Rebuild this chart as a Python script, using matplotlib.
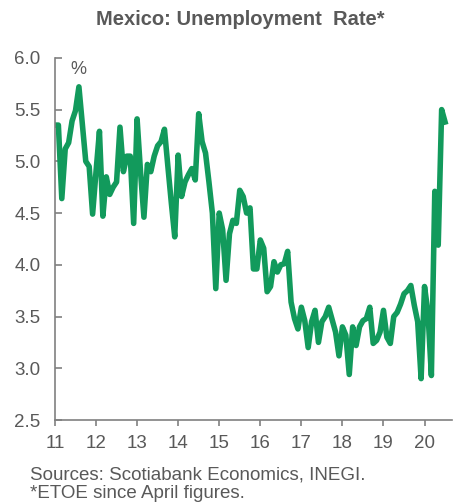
import numpy as np
import matplotlib
matplotlib.use('Agg')
import matplotlib.pyplot as plt

# monthly unemployment rate, Jan 2011 - Jul 2020 (%)
rate_2011 = [5.35, 5.35, 4.64, 5.12, 5.18, 5.39, 5.49, 5.72, 5.36, 5.00, 4.95, 4.49]
rate_2012 = [4.90, 5.29, 4.47, 4.85, 4.68, 4.75, 4.80, 5.33, 4.90, 5.05, 5.05, 4.40]
rate_2013 = [5.41, 4.90, 4.46, 4.97, 4.90, 5.05, 5.15, 5.19, 5.31, 4.95, 4.60, 4.27]
rate_2014 = [5.06, 4.66, 4.80, 4.87, 4.93, 4.82, 5.46, 5.19, 5.08, 4.80, 4.50, 3.77]
rate_2015 = [4.50, 4.34, 3.85, 4.30, 4.43, 4.40, 4.72, 4.66, 4.50, 4.55, 3.96, 3.96]
rate_2016 = [4.24, 4.16, 3.74, 3.79, 4.03, 3.93, 4.00, 4.01, 4.13, 3.64, 3.48, 3.38]
rate_2017 = [3.59, 3.46, 3.20, 3.45, 3.56, 3.25, 3.45, 3.50, 3.59, 3.47, 3.35, 3.12]
rate_2018 = [3.40, 3.32, 2.94, 3.40, 3.22, 3.40, 3.46, 3.48, 3.59, 3.24, 3.27, 3.35]
rate_2019 = [3.56, 3.30, 3.24, 3.50, 3.54, 3.62, 3.72, 3.75, 3.80, 3.61, 3.45, 2.90]
rate_2020 = [3.79, 3.54, 2.93, 4.71, 4.19, 5.50, 5.38]

rate = (rate_2011 + rate_2012 + rate_2013 + rate_2014 + rate_2015 + rate_2016
        + rate_2017 + rate_2018 + rate_2019 + rate_2020)
t = 2011 + np.arange(len(rate)) / 12.0

year_ticks = list(range(2011, 2021))
year_labels = ['11', '12', '13', '14', '15', '16', '17', '18', '19', '20']
y_ticks = [2.5, 3.0, 3.5, 4.0, 4.5, 5.0, 5.5, 6.0]

plt.rcParams['font.family'] = ['Liberation Sans', 'DejaVu Sans']
grey = '#595959'

fig = plt.figure(figsize=(4.58, 5.03), dpi=100)
ax = fig.add_axes([0.120, 0.165, 0.867, 0.720])

ax.plot(t, rate, color='#129a5c', lw=4.0, solid_joinstyle='round')

ax.set_xlim(2011, 2020.67)
ax.set_ylim(2.5, 6.0)
ax.set_xticks(year_ticks)
ax.set_xticklabels(year_labels)
ax.set_yticks(y_ticks)
ax.set_yticklabels(['%.1f' % v for v in y_ticks])

for s in ['top', 'right']:
    ax.spines[s].set_visible(False)
for s in ['left', 'bottom']:
    ax.spines[s].set_color('#808080')
    ax.spines[s].set_linewidth(1.2)
ax.tick_params(axis='y', direction='in', length=5, width=1.2, color='#808080',
               labelsize=13.5, labelcolor=grey, pad=10.5)
ax.tick_params(axis='x', direction='out', length=4, width=1.2, color='#808080',
               labelsize=13.5, labelcolor=grey, pad=6.5)

ax.text(0.04, 0.99, '%', transform=ax.transAxes, fontsize=13, color=grey,
        va='top', ha='left')

fig.text(0.525, 0.962, 'Mexico: Unemployment  Rate*', ha='center', va='center',
         fontsize=14.5, fontweight='bold', color=grey)
fig.text(0.065, 0.055, 'Sources: Scotiabank Economics, INEGI.', ha='left',
         va='center', fontsize=13.5, color=grey)
fig.text(0.065, 0.018, '*ETOE since April figures.', ha='left', va='center',
         fontsize=13.5, color=grey)

fig.savefig('out.png', dpi=100)
